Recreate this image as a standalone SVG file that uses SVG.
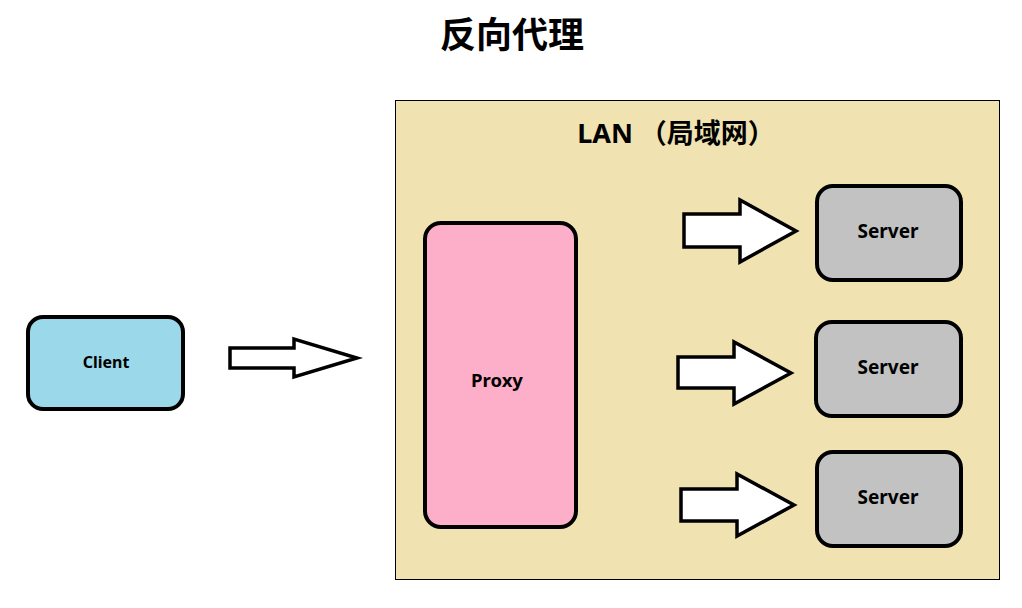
<svg xmlns="http://www.w3.org/2000/svg" width="1022" height="608" viewBox="0 0 1022 608">
<style>
text{font-family:"Noto Sans","Noto Sans CJK SC",sans-serif;font-weight:bold;fill:#000;text-anchor:middle}
.node{stroke:#000;stroke-width:4}
.arrow{fill:#fff;stroke:#000;stroke-width:3.5;stroke-linejoin:miter}
</style>
<rect width="1022" height="608" fill="#fff"/>
<text x="512" y="48" font-size="36" font-family="Noto Sans CJK SC, sans-serif">反向代理</text>
<g id="lan">
<rect x="395.5" y="100.5" width="604" height="479" fill="#F0E3B1" stroke="#000" stroke-width="1"/>
<text x="676" y="143" font-size="27">LAN （局域网）</text>
</g>
<g id="client">
<rect class="node" x="28" y="317" width="155" height="92" rx="15" fill="#9BD9EA"/>
<text x="106" y="368" font-size="16">Client</text>
</g>
<g id="proxy">
<rect class="node" x="425" y="223" width="151" height="304" rx="16" fill="#FDAEC8"/>
<text x="497" y="387" font-size="18.5">Proxy</text>
</g>
<g id="server1">
<rect class="node" x="817" y="186" width="144" height="94" rx="16" fill="#C2C2C2"/>
<text x="888" y="238" font-size="19">Server</text>
</g>
<g id="server2">
<rect class="node" x="816" y="322" width="145" height="94" rx="16" fill="#C2C2C2"/>
<text x="888" y="374" font-size="19">Server</text>
</g>
<g id="server3">
<rect class="node" x="817" y="452" width="144" height="94" rx="16" fill="#C2C2C2"/>
<text x="888" y="504" font-size="19">Server</text>
</g>
<g id="connectors">
<polygon class="arrow" points="230,348 294,348 294,339 357,358 294,377 294,368 230,368"/>
<polygon class="arrow" points="684,214 740,214 740,200 796,231 740,262 740,247 684,247"/>
<polygon class="arrow" points="678,357 734,357 734,342 791,373 734,404 734,388 678,388"/>
<polygon class="arrow" points="681,489 737,489 737,474 794,505 737,536 737,521 681,521"/>
</g>
</svg>
